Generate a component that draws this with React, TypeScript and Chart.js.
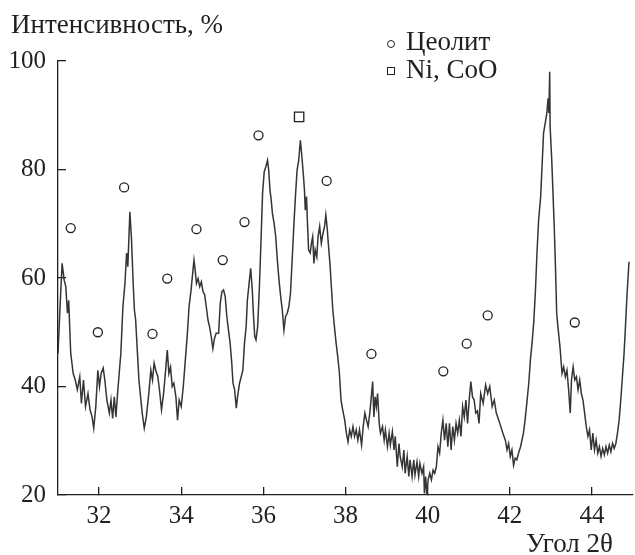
import React, { useEffect, useRef } from "react";
import { Chart, registerables } from "chart.js";

Chart.register(...registerables);

// Diffraction pattern: angle 2θ (deg) and relative intensity (%)
const angle = [
  31.0, 31.05, 31.1, 31.15, 31.19, 31.23, 31.26, 31.31, 31.37, 31.42, 31.47, 31.53, 31.57, 31.62, 31.67, 31.73,
  31.78, 31.83, 31.87, 31.92, 31.97, 32.01, 32.05, 32.1, 32.14, 32.19, 32.25, 32.29, 32.33, 32.37, 32.41, 32.45,
  32.49, 32.53, 32.58, 32.63, 32.67, 32.7, 32.75, 32.79, 32.83, 32.86, 32.89, 32.93, 32.97, 33.01, 33.05, 33.1,
  33.15, 33.21, 33.26, 33.3, 33.34, 33.38, 33.43, 33.47, 33.52, 33.57, 33.62, 33.66, 33.7, 33.74, 33.78, 33.82,
  33.87, 33.91, 33.95, 34.0, 34.05, 34.1, 34.15, 34.19, 34.24, 34.27, 34.31,
  34.33, 34.37, 34.41, 34.45, 34.49, 34.53, 34.57, 34.61, 34.65, 34.69, 34.73, 34.77, 34.81, 34.85, 34.91, 34.95,
  34.99, 35.03, 35.07, 35.11, 35.15, 35.19, 35.23, 35.26, 35.3, 35.34, 35.37, 35.42, 35.46, 35.5, 35.54, 35.58,
  35.61, 35.66, 35.69, 35.73, 35.76, 35.79, 35.82, 35.86, 35.9, 35.94, 35.98, 36.02, 36.06, 36.1, 36.13, 36.16,
  36.19, 36.22, 36.26, 36.3, 36.34, 36.38, 36.42, 36.46, 36.5, 36.54, 36.58, 36.62, 36.66, 36.7, 36.74, 36.78,
  36.82, 36.86, 36.9, 36.93, 36.97, 37.0, 37.02, 37.05, 37.07, 37.1, 37.14, 37.17, 37.2, 37.23, 37.26, 37.3,
  37.33, 37.37, 37.41, 37.45, 37.49, 37.52, 37.55, 37.58, 37.62, 37.65, 37.69, 37.73, 37.77,
  37.81, 37.85, 37.89, 37.93, 37.98, 38.02, 38.06, 38.1, 38.14, 38.18, 38.22, 38.26, 38.3, 38.34, 38.39, 38.43,
  38.47, 38.51, 38.55, 38.59, 38.62, 38.66, 38.69, 38.72, 38.75, 38.78, 38.82, 38.85, 38.9, 38.94, 38.97, 39.02,
  39.06, 39.09, 39.14, 39.18, 39.21, 39.26, 39.3, 39.33, 39.38, 39.42, 39.45, 39.5, 39.54, 39.57, 39.62, 39.66,
  39.69, 39.74, 39.78, 39.81, 39.86, 39.9, 39.92, 39.95, 39.98, 40.01, 40.05, 40.09, 40.13, 40.17, 40.21, 40.25,
  40.29, 40.33, 40.37, 40.41, 40.45, 40.49, 40.53, 40.57, 40.61, 40.65, 40.69, 40.73, 40.77, 40.81, 40.85, 40.89,
  40.93, 40.97, 41.01, 41.05, 41.09,
  41.13, 41.17, 41.21, 41.25, 41.29, 41.35, 41.41, 41.46, 41.51, 41.57, 41.62, 41.67, 41.73, 41.78, 41.83, 41.89,
  41.93, 41.97, 42.01, 42.05, 42.09, 42.13, 42.17, 42.21, 42.26, 42.33, 42.37, 42.42, 42.46, 42.5, 42.54, 42.58,
  42.62, 42.66, 42.7, 42.75, 42.79, 42.82, 42.86, 42.9, 42.93, 42.95, 42.97, 42.98, 43.02, 43.05, 43.08, 43.11,
  43.14, 43.17, 43.22, 43.27, 43.31, 43.35, 43.39, 43.43, 43.47, 43.5, 43.54, 43.58, 43.62, 43.66, 43.7, 43.74,
  43.78, 43.82, 43.86, 43.9, 43.94, 43.98, 44.02, 44.06, 44.1, 44.14, 44.18, 44.22, 44.26, 44.3, 44.34, 44.38,
  44.42, 44.46, 44.5, 44.54, 44.58, 44.62, 44.66, 44.7, 44.74, 44.78, 44.81, 44.85, 44.9,
];
const intensity = [
  46.1, 54.7, 62.7, 59.6, 58.4, 53.5, 55.9, 46.1, 42.4, 41.2, 39.4, 41.8, 36.9, 41.2, 36.3, 38.7,
  35.7, 34.4, 32.3, 36.3, 43.0, 40.0, 42.4, 43.4, 41.2, 37.5, 35.1, 37.5, 34.1, 38.1, 34.4, 38.7,
  42.4, 46.1, 54.7, 59.0, 64.6, 62.1, 72.2, 67.0, 59.0, 54.1, 52.3, 46.7, 41.2, 38.1, 35.1, 32.3,
  34.4, 38.7, 43.0, 41.2, 44.3, 43.0, 41.8, 39.4, 35.7, 38.7, 43.0, 46.7, 42.4, 43.6, 40.0, 40.6,
  38.1, 33.8, 37.5, 36.3, 40.0, 44.9, 49.8, 54.7, 57.8, 60.2, 63.3,
  62.1, 59.0, 59.9, 58.4, 59.3, 57.5, 56.9, 54.7, 52.3, 51.0, 49.2, 47.0, 48.9, 49.8, 49.8, 55.3,
  57.5, 57.8, 56.6, 52.9, 50.4, 48.0, 44.3, 40.6, 39.4, 36.0, 38.1, 40.6, 41.8, 43.0, 48.0, 51.0,
  55.9, 59.6, 61.8, 57.8, 52.9, 49.2, 48.6, 51.0, 57.8, 66.4, 75.6, 79.6, 80.5, 81.7, 79.9, 76.2,
  74.4, 71.9, 70.1, 67.6, 63.3, 59.6, 56.6, 54.1, 50.4, 52.9, 53.5, 54.7, 57.2, 63.3, 69.5, 75.0,
  79.9, 81.7, 85.4, 83.0, 79.3, 76.2, 72.5, 75.0, 70.7, 65.2, 64.6, 66.4, 67.6, 62.7, 65.2, 63.9,
  67.6, 69.5, 66.4, 68.2, 69.5, 71.6, 69.5, 66.4, 62.7, 59.0, 54.1, 51.0, 48.0,
  45.5, 42.5, 37.5, 35.7, 33.8, 31.4, 29.8, 32.0, 30.8, 32.6, 30.8, 32.0, 30.1, 32.0, 29.2, 32.6,
  35.1, 33.8, 32.6, 35.1, 37.5, 40.9, 34.4, 38.1, 36.3, 38.7, 33.2, 31.4, 32.6, 30.1, 32.0, 28.9,
  31.4, 29.2, 31.7, 28.3, 30.8, 25.2, 29.5, 27.1, 25.2, 28.3, 24.0, 27.1, 23.4, 26.5, 23.4, 26.5,
  23.7, 26.1, 23.4, 25.8, 24.0, 25.2, 20.3, 23.4, 20.0, 22.8, 24.0, 22.8, 24.6, 24.0, 25.2, 28.9,
  27.7, 31.4, 33.8, 30.1, 33.2, 28.9, 33.2, 28.3, 32.6, 30.1, 33.2, 31.4, 33.8, 30.8, 36.3, 34.4,
  37.5, 33.2, 37.5, 40.9, 38.1,
  37.5, 35.1, 35.5, 33.2, 38.7, 36.9, 40.3, 38.7, 40.0, 36.3, 37.5, 35.1, 33.8, 32.6, 31.4, 30.1,
  28.3, 29.5, 27.1, 28.3, 25.5, 26.8, 26.5, 27.7, 28.9, 31.4, 33.8, 37.5, 40.6, 44.9, 48.0, 51.7,
  57.2, 64.6, 70.7, 75.0, 81.7, 86.7, 88.5, 90.4, 93.1, 90.4, 98.0, 87.9, 81.7, 75.6, 69.5, 62.1,
  53.5, 51.0, 47.3, 42.4, 43.6, 41.8, 43.0, 39.4, 35.1, 41.2, 43.6, 41.2, 41.8, 39.4, 41.2, 38.7,
  37.5, 35.1, 32.6, 30.8, 32.0, 28.3, 31.4, 28.3, 30.1, 27.7, 28.9, 27.1, 28.6, 27.4, 28.9, 27.7,
  29.2, 28.0, 29.5, 28.6, 29.5, 31.4, 33.8, 37.5, 41.8, 46.1, 50.4, 56.6, 63.0,
];

// Phase markers
const zeoliteX = [31.31, 31.97, 32.61, 33.3, 33.66, 34.37, 35.01, 35.54, 35.88, 37.54, 38.63, 40.38, 40.95, 41.46, 43.58, 44.9];
const zeoliteY = [69.2, 50.0, 76.7, 49.7, 59.9, 69.0, 63.3, 70.3, 86.3, 77.9, 46.0, 42.8, 47.9, 53.1, 51.8, 102.8];
const nicooX = [36.87, 42.91];
const nicooY = [89.7, 101.6];

const xTicks = [32, 34, 36, 38, 40, 42, 44];
const yTicks = [20, 40, 60, 80, 100];

const yTitle = "Интенсивность, %";
const xTitle = "Угол 2θ";
const legendZeolite = "Цеолит";
const legendNiCoO = "Ni, CoO";

const FONT = "'Liberation Serif', 'Times New Roman', serif";
const INK = "#231f20";

export default function App() {
  const ref = useRef<HTMLCanvasElement | null>(null);

  useEffect(() => {
    if (!ref.current) return;
    const chart = new Chart(ref.current, {
      type: "scatter",
      data: {
        datasets: [
          {
            type: "line",
            data: angle.map((x, i) => ({ x, y: intensity[i] })),
            borderColor: "#353535",
            borderWidth: 1.5,
            pointRadius: 0,
            tension: 0,
            fill: false,
            order: 2,
          } as any,
          {
            data: zeoliteX.map((x, i) => ({ x, y: zeoliteY[i] })),
            pointStyle: "circle",
            pointRadius: 4.5,
            borderColor: INK,
            borderWidth: 1.3,
            backgroundColor: "rgba(0,0,0,0)",
            clip: false,
            order: 1,
          } as any,
          {
            data: nicooX.map((x, i) => ({ x, y: nicooY[i] })),
            pointStyle: "rect",
            pointRadius: 6.6,
            borderColor: INK,
            borderWidth: 1.3,
            backgroundColor: "rgba(0,0,0,0)",
            clip: false,
            order: 1,
          } as any,
        ],
      },
      options: {
        responsive: false,
        animation: false,
        devicePixelRatio: 1,
        layout: { padding: { left: 0, top: 61, right: 0, bottom: 0 } },
        plugins: { legend: { display: false }, tooltip: { enabled: false } },
        scales: {
          x: {
            type: "linear",
            min: 31,
            max: 45,
            afterBuildTicks: (s: any) => {
              s.ticks = xTicks.map((v) => ({ value: v }));
            },
            afterFit: (s: any) => {
              s.height = 60;
            },
            grid: { drawOnChartArea: false, tickLength: -8, color: INK, lineWidth: 1.3 },
            border: { color: INK, width: 1.3 },
            ticks: { font: { family: FONT, size: 25 }, color: INK, padding: 14, maxRotation: 0 },
          },
          y: {
            type: "linear",
            min: 20,
            max: 100,
            afterBuildTicks: (s: any) => {
              s.ticks = yTicks.map((v) => ({ value: v }));
            },
            afterFit: (s: any) => {
              s.width = 58;
            },
            grid: { drawOnChartArea: false, tickLength: -8, color: INK, lineWidth: 1.3 },
            border: { color: INK, width: 1.3 },
            ticks: { font: { family: FONT, size: 25 }, color: INK, padding: 20 },
          },
        },
      } as any,
    });
    return () => chart.destroy();
  }, []);

  const text: React.CSSProperties = {
    position: "absolute",
    fontFamily: FONT,
    fontSize: 27,
    lineHeight: "27px",
    color: INK,
    whiteSpace: "nowrap",
  };

  return (
    <div style={{ position: "fixed", left: 0, top: 0, width: 635, height: 555, overflow: "hidden", background: "#fff" }}>
      <canvas ref={ref} width={641} height={555} style={{ position: "absolute", left: 0, top: 0, width: 641, height: 555 }} />
      <div style={{ ...text, left: 11, top: 10.7 }}>{yTitle}</div>
      <div style={{ ...text, right: 22, top: 530 }}>{xTitle}</div>
      <div style={{ position: "absolute", left: 386.5, top: 39.5, width: 8, height: 8, borderRadius: "50%", border: `1.3px solid ${INK}`, boxSizing: "border-box" }} />
      <div style={{ ...text, left: 406, top: 28 }}>{legendZeolite}</div>
      <div style={{ position: "absolute", left: 386.5, top: 66.5, width: 8.5, height: 8.5, border: `1.3px solid ${INK}`, boxSizing: "border-box" }} />
      <div style={{ ...text, left: 406, top: 56.4 }}>{legendNiCoO}</div>
    </div>
  );
}
